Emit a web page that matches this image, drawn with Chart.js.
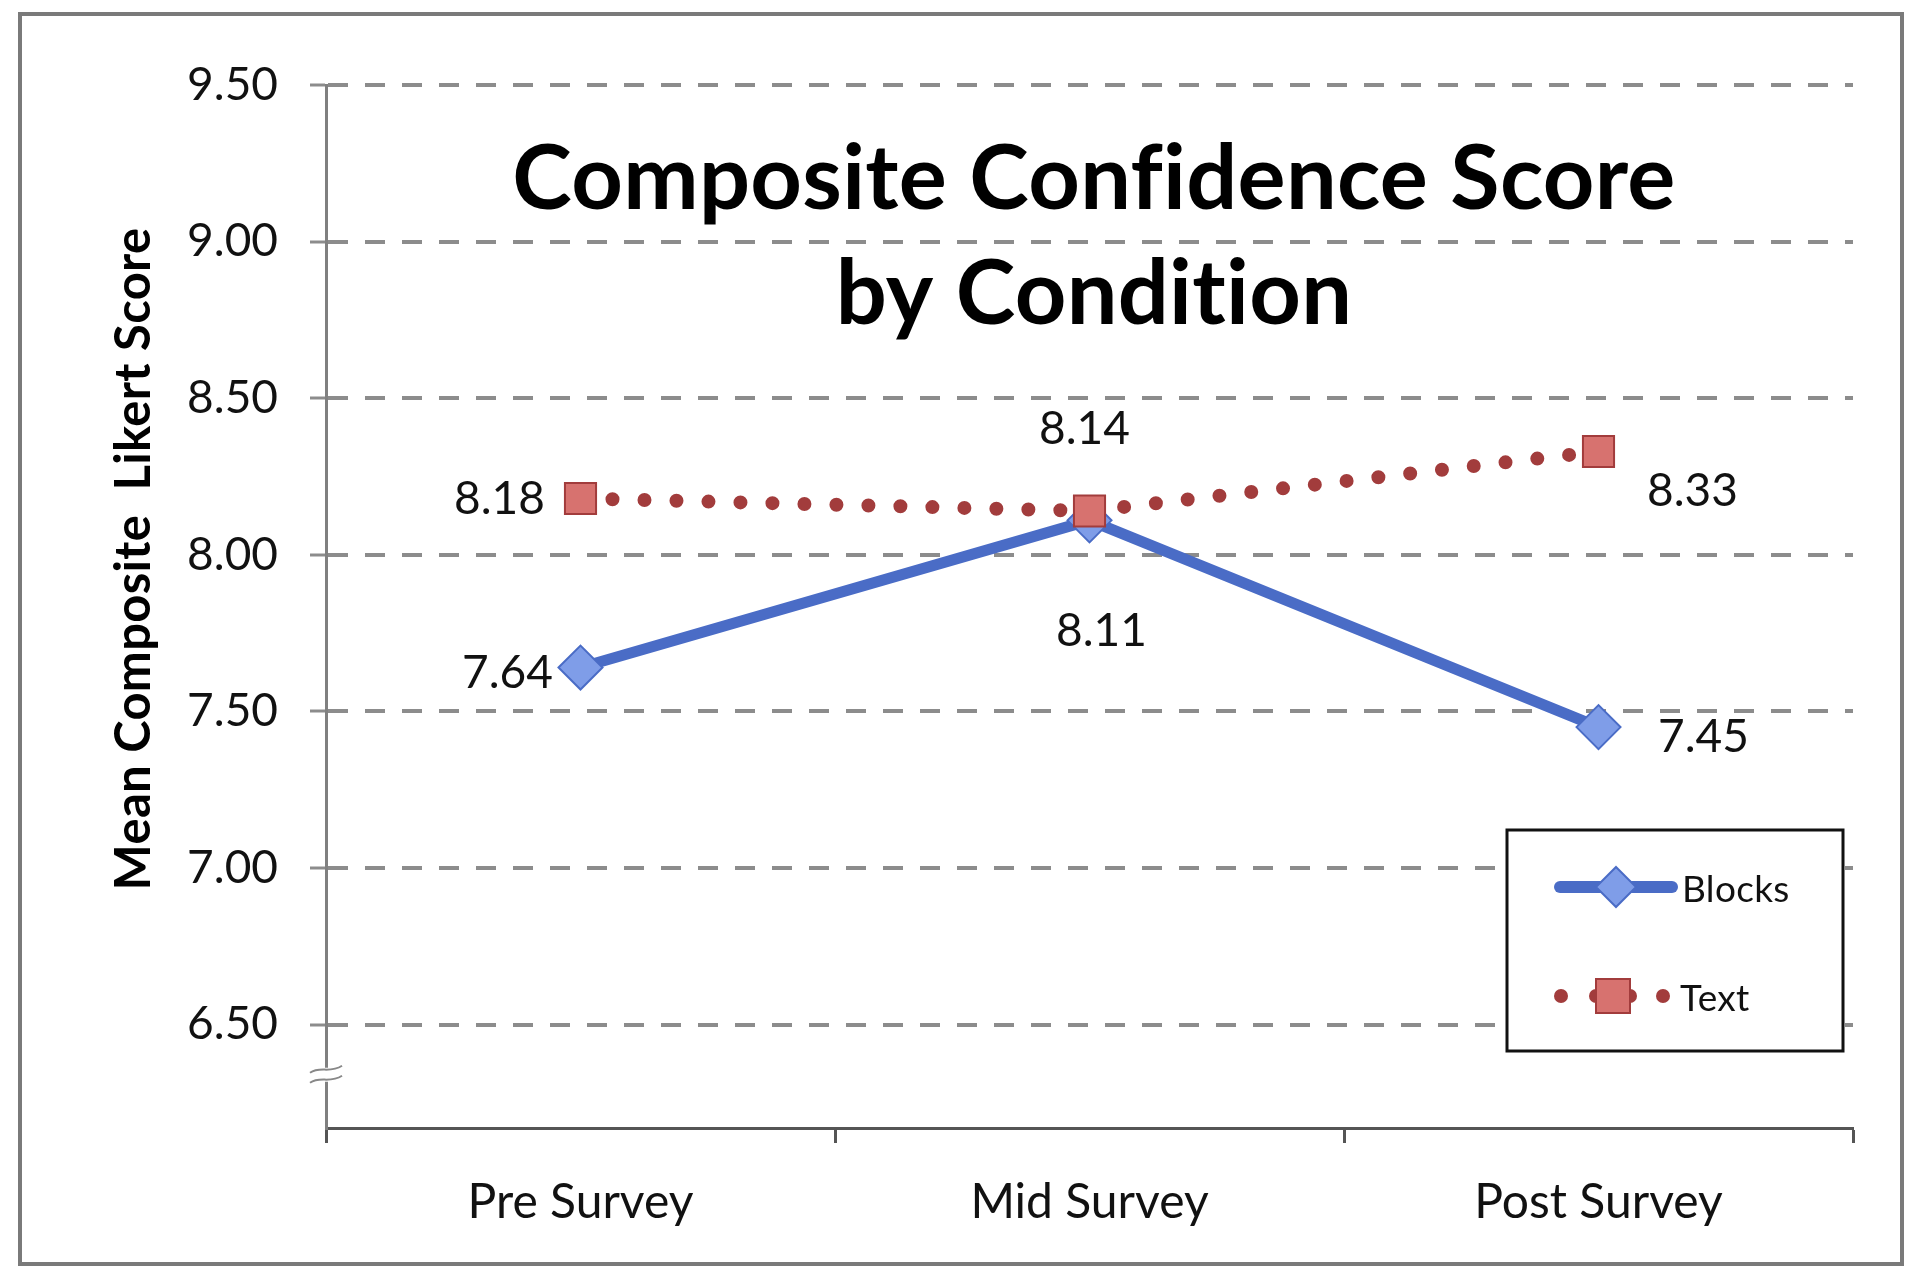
<!DOCTYPE html>
<html><head><meta charset="utf-8">
<script src="https://cdn.jsdelivr.net/npm/chart.js@4.4.0/dist/chart.umd.min.js"></script>
<style>html,body{margin:0;padding:0;background:#fff;overflow:hidden}#wrap{position:relative;width:1905px;height:1266px}</style>
</head><body><div id="wrap"><canvas id="c" width="1905" height="1266"></canvas></div>
<script>
// ---- data ----
const categories = ['Pre Survey', 'Mid Survey', 'Post Survey'];
const seriesNames = ['Blocks', 'Text'];
const blocksValues = [7.64, 8.11, 7.45];
const textValues = [8.18, 8.14, 8.33];
const yTickValues = [6.5, 7.0, 7.5, 8.0, 8.5, 9.0, 9.5];
const titleLines = ['Composite Confidence Score', 'by Condition'];
const yAxisTitle = 'Mean Composite  Likert Score';

// ---- styles ----
const FONT = 'Lato, "Open Sans", sans-serif';
const BLUE = '#4a6cc6', BLUE_FILL = '#7f9de8';
const RED = '#a23c3c', RED_FILL = '#d7726f';
const labelOffsets = {
  0: [[-73, 6], [12, 111], [105, 10]],   // Blocks
  1: [[-81, 1], [-5, -82], [94, 40]]     // Text
};

function diamond(ctx, x, y, r, fill, stroke) {
  ctx.beginPath();
  ctx.moveTo(x, y - r); ctx.lineTo(x + r, y); ctx.lineTo(x, y + r); ctx.lineTo(x - r, y); ctx.closePath();
  ctx.fillStyle = fill; ctx.fill(); ctx.lineWidth = 2; ctx.strokeStyle = stroke; ctx.stroke();
}
function square(ctx, x, y, h, fill, stroke) {
  ctx.beginPath(); ctx.rect(x - h, y - h, 2 * h, 2 * h);
  ctx.fillStyle = fill; ctx.fill(); ctx.lineWidth = 2; ctx.strokeStyle = stroke; ctx.stroke();
}
function noLig(ctx) { if ('letterSpacing' in ctx) ctx.letterSpacing = '0.3px'; }

const decor = {
  id: 'decor',
  beforeDraw(chart) {
    const ctx = chart.ctx;
    ctx.save();
    ctx.fillStyle = '#fff'; ctx.fillRect(0, 0, chart.width, chart.height);
    ctx.strokeStyle = '#7a7a7a'; ctx.lineWidth = 4;
    ctx.strokeRect(20, 14, 1882, 1250);
    ctx.restore();
  },
  afterDatasetsDraw(chart) {
    const ctx = chart.ctx;
    ctx.save();
    ctx.font = '46px ' + FONT; ctx.fillStyle = '#111';
    ctx.textAlign = 'center'; ctx.textBaseline = 'middle';
    chart.data.datasets.forEach((ds, di) => {
      const meta = chart.getDatasetMeta(di);
      meta.data.forEach((pt, i) => {
        const o = labelOffsets[di][i];
        ctx.fillText(ds.data[i].toFixed(2), pt.x + o[0], pt.y + o[1]);
      });
    });
    ctx.restore();
  },
  afterDraw(chart) {
    const ctx = chart.ctx;
    const ca = chart.chartArea;
    const ys = chart.scales.y;
    ctx.save();
    noLig(ctx);
    // title
    ctx.fillStyle = '#000'; ctx.textAlign = 'center'; ctx.textBaseline = 'middle';
    ctx.font = 'bold 90px ' + FONT;
    ctx.fillText(titleLines[0], 1094, 180);
    ctx.fillText(titleLines[1], 1094, 295);
    // y axis title
    ctx.save();
    ctx.translate(134, 559); ctx.rotate(-Math.PI / 2);
    ctx.font = 'bold 49px ' + FONT;
    ctx.fillText(yAxisTitle, 0, 0);
    ctx.restore();
    // axis break
    const bx = ca.left, by = ys.getPixelForValue(6.34);
    ctx.fillStyle = '#fff'; ctx.fillRect(bx - 3, by - 7, 6, 14);
    ctx.strokeStyle = '#888'; ctx.lineWidth = 2;
    [-5, 5].forEach(d => {
      ctx.beginPath();
      ctx.moveTo(bx - 16, by + d + 3);
      ctx.bezierCurveTo(bx - 6, by + d - 4, bx + 4, by + d + 4, bx + 16, by + d - 4);
      ctx.stroke();
    });
    // legend
    const L = 1507, T = 830, R = 1843, B = 1051;
    ctx.fillStyle = '#fff'; ctx.fillRect(L, T, R - L, B - T);
    ctx.strokeStyle = '#111'; ctx.lineWidth = 3; ctx.strokeRect(L, T, R - L, B - T);
    const ds0 = chart.data.datasets[0], ds1 = chart.data.datasets[1];
    const y0 = 887, y1 = 996;
    ctx.lineCap = 'round';
    ctx.strokeStyle = ds0.borderColor; ctx.lineWidth = 12;
    ctx.beginPath(); ctx.moveTo(1560, y0); ctx.lineTo(1672, y0); ctx.stroke();
    diamond(ctx, 1616, y0, 20, BLUE_FILL, BLUE);
    ctx.fillStyle = RED;
    [1561, 1596, 1630, 1663].forEach(x => { ctx.beginPath(); ctx.arc(x, y1, 7, 0, Math.PI * 2); ctx.fill(); });
    square(ctx, 1613, y1, 17, RED_FILL, RED);
    ctx.fillStyle = '#111'; ctx.textAlign = 'left'; ctx.textBaseline = 'middle';
    ctx.font = '37px ' + FONT;
    ctx.fillText(ds0.label, 1682, y0 + 3);
    ctx.fillText(ds1.label, 1680, y1 + 3);
    ctx.restore();
  }
};

new Chart(document.getElementById('c'), {
  type: 'line',
  data: {
    labels: categories,
    datasets: [
      {
        label: seriesNames[0], data: blocksValues, order: 1,
        borderColor: BLUE, borderWidth: 11, tension: 0,
        pointStyle: 'rectRot', pointRadius: 22, pointBackgroundColor: BLUE_FILL,
        pointBorderColor: BLUE, pointBorderWidth: 2
      },
      {
        label: seriesNames[1], data: textValues, order: 0,
        borderColor: RED, borderWidth: 14, borderDash: [0, 32], borderCapStyle: 'round', tension: 0,
        pointStyle: 'rect', pointRadius: 22, pointBackgroundColor: RED_FILL,
        pointBorderColor: RED, pointBorderWidth: 2
      }
    ]
  },
  options: {
    responsive: false, animation: false, devicePixelRatio: 1,
    layout: { padding: { top: 85, right: 52, bottom: 0, left: 0 } },
    plugins: { legend: { display: false }, tooltip: { enabled: false }, title: { display: false } },
    scales: {
      x: {
        type: 'category', offset: true,
        afterFit(s) { s.height = 138; },
        grid: { offset: true, drawOnChartArea: false, drawTicks: true, tickLength: 15, tickColor: '#555', tickWidth: 3 },
        border: { color: '#555', width: 3 },
        ticks: { font: { family: FONT, size: 48 }, color: '#111', padding: 31, maxRotation: 0 }
      },
      y: {
        min: 6.17, max: 9.5,
        afterFit(s) { s.width = 326; },
        afterBuildTicks(s) { s.ticks = yTickValues.map(v => ({ value: v })); },
        grid: { color: '#8c8c8c', lineWidth: 4, tickLength: 16, tickColor: '#8c8c8c', tickWidth: 3 },
        border: { color: '#808080', width: 3, dash: [20, 17] },
        ticks: { font: { family: FONT, size: 46 }, color: '#111', padding: 32, callback: v => Number(v).toFixed(2) },
        title: { display: false, text: yAxisTitle }
      }
    }
  },
  plugins: [decor]
});
</script></body></html>
